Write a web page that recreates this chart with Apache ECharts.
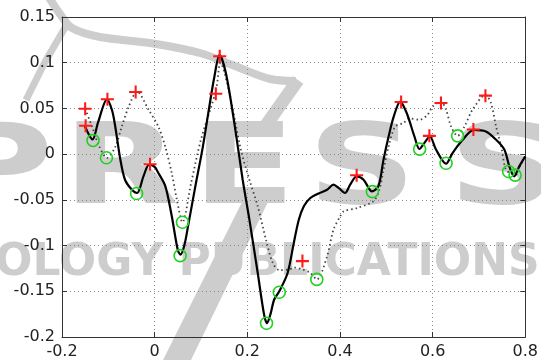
<!DOCTYPE html>
<html><head><meta charset="utf-8">
<script src="https://cdn.jsdelivr.net/npm/echarts@6/dist/echarts.min.js"></script>
<style>html,body{margin:0;padding:0;background:#fff}#c{width:541px;height:360px}</style>
</head><body><div id="c"></div>
<script>
const xTickLabels = ['-0.2','0','0.2','0.4','0.6','0.8'];
const yTickLabels = ['-0.2','-0.15','-0.1','-0.05','0','0.05','0.1','0.15'];

const solidCurve = [
  [-0.151,0.031],[-0.134,0.016],[-0.122,0.035],[-0.103,0.060],[-0.092,0.048],[-0.085,0.030],
  [-0.074,-0.006],[-0.064,-0.028],[-0.049,-0.039],[-0.038,-0.0425],[-0.024,-0.024],[-0.012,-0.0115],
  [0.000,-0.014],[0.008,-0.0206],[0.023,-0.035],[0.037,-0.068],[0.050,-0.105],[0.056,-0.110],
  [0.064,-0.100],[0.072,-0.079],[0.089,-0.032],[0.104,0.008],[0.118,0.052],[0.129,0.085],
  [0.140,0.1085],[0.154,0.088],[0.172,0.034],[0.190,-0.028],[0.2045,-0.0716],[0.2225,-0.130],
  [0.236,-0.175],[0.2425,-0.185],[0.250,-0.175],[0.258,-0.159],[0.269,-0.150],[0.287,-0.130],
  [0.300,-0.098],[0.311,-0.072],[0.322,-0.057],[0.336,-0.048],[0.354,-0.043],[0.372,-0.039],
  [0.386,-0.0334],[0.397,-0.037],[0.411,-0.0425],[0.422,-0.0334],[0.436,-0.0243],[0.451,-0.028],
  [0.469,-0.0407],[0.483,-0.035],[0.494,-0.006],[0.505,0.0193],[0.516,0.041],[0.530,0.0575],
  [0.544,0.045],[0.5608,0.0193],[0.5716,0.0056],[0.582,0.012],[0.594,0.0193],[0.6075,0.0048],
  [0.629,-0.0105],[0.643,0.0012],[0.665,0.0157],[0.6886,0.0266],[0.715,0.0248],[0.737,0.0157],
  [0.755,0.0048],[0.7655,-0.0134],[0.776,-0.0243],[0.787,-0.0134],[0.800,-0.0025]
];

const dottedCurve = [
  [-0.150,0.0496],[-0.135,0.030],[-0.121,0.010],[-0.103,-0.004],[-0.085,0.008],[-0.071,0.030],
  [-0.056,0.052],[-0.038,0.0685],[-0.013,0.0485],[0.008,0.030],[0.023,0.008],[0.037,-0.021],
  [0.048,-0.050],[0.060,-0.0745],[0.0787,-0.0316],[0.100,0.016],[0.1325,0.0700],[0.142,0.100],
  [0.160,0.070],[0.186,0.005],[0.2045,-0.028],[0.2225,-0.057],[0.240,-0.093],[0.255,-0.119],
  [0.270,-0.127],[0.291,-0.126],[0.300,-0.124],[0.319,-0.126],[0.336,-0.130],[0.350,-0.137],
  [0.372,-0.112],[0.386,-0.0825],[0.4006,-0.068],[0.408,-0.0625],[0.436,-0.059],[0.472,-0.0516],
  [0.485,-0.039],[0.494,-0.017],[0.505,0.0084],[0.519,0.030],[0.537,0.034],[0.550,0.039],
  [0.5716,0.0376],[0.589,0.043],[0.600,0.052],[0.618,0.0575],[0.629,0.0485],[0.640,0.030],
  [0.654,0.020],[0.6685,0.030],[0.686,0.0485],[0.714,0.0648],[0.726,0.0558],[0.737,0.030],
  [0.748,0.0084],[0.758,-0.017],[0.770,-0.021],[0.780,-0.0225],[0.790,-0.012],[0.800,-0.003]
];

const maximaPoints = [
  [-0.150,0.0496],[-0.149,0.031],[-0.102,0.060],[-0.041,0.068],[-0.010,-0.011],[0.132,0.066],
  [0.1405,0.107],[0.319,-0.117],[0.436,-0.023],[0.532,0.057],[0.593,0.020],[0.618,0.056],
  [0.688,0.027],[0.714,0.064]
];

const minimaPoints = [
  [-0.133,0.015],[-0.104,-0.004],[-0.039,-0.043],[0.055,-0.111],[0.060,-0.0745],[0.2415,-0.185],
  [0.269,-0.151],[0.350,-0.137],[0.470,-0.041],[0.572,0.0055],[0.629,-0.010],[0.654,0.020],
  [0.764,-0.019],[0.778,-0.023]
];

const labelFor = (labels) => (v) => {
  const s = String(+v.toFixed(2));
  return labels.indexOf(s) >= 0 ? s : '';
};

const plusPath = 'path://M-1,-0.16L-0.16,-0.16L-0.16,-1L0.16,-1L0.16,-0.16L1,-0.16L1,0.16L0.16,0.16L0.16,1L-0.16,1L-0.16,0.16L-1,0.16Z';
const wm = '#cdcdcd';
const bigFont = 'bold 112px "DejaVu Sans"';
const letter = (ch, cx) => ({
  type: 'text', z: -10, silent: true, x: cx, y: 174, scaleX: 1.35,
  style: { text: ch, x: 0, y: 0, font: bigFont, fill: wm, align: 'center', verticalAlign: 'middle' }
});

const chart = echarts.init(document.getElementById('c'), null, {renderer: 'canvas'});
const axisCommon = {
  type: 'value',
  axisLine: { show: true, onZero: false, lineStyle: { color: '#333', width: 1 } },
  axisTick: { show: true, inside: true, length: 5, lineStyle: { color: '#333' } },
  splitLine: { show: false }
};
chart.setOption({
  animation: false,
  backgroundColor: '#fff',
  grid: { left: 62, right: 15, top: 17, bottom: 22, show: true, backgroundColor: 'transparent', borderWidth: 0 },
  graphic: [
    letter('P', -2), letter('R', 121), letter('E', 244), letter('S', 362), letter('S', 503),
    { type: 'text', z: -10, silent: true,
      style: { text: 'OLOGY PUBLICATIONS', x: -5, y: 264, font: 'bold 44px "DejaVu Sans"', fill: wm, align: 'left', verticalAlign: 'middle' } },
    { type: 'polyline', z: -10, silent: true,
      shape: { points: [[48,-4],[60,14],[72,28],[100,37],[150,43],[200,53],[235,66],[270,79],[296,81]], smooth: 0.3 },
      style: { stroke: wm, lineWidth: 8, fill: null } },
    { type: 'polyline', z: -10, silent: true,
      shape: { points: [[298,80],[264,128]] },
      style: { stroke: wm, lineWidth: 13, fill: null } },
    { type: 'polyline', z: -10, silent: true,
      shape: { points: [[66,26],[45,62],[26,100]] },
      style: { stroke: wm, lineWidth: 7, fill: null } },
    { type: 'polygon', z: -10, silent: true,
      shape: { points: [[242,202],[268,202],[190,362],[162,362]] },
      style: { fill: wm } }
  ],
  xAxis: [
    Object.assign({}, axisCommon, {
      position: 'bottom', min: -0.2, max: 0.8, interval: 0.2,
      axisLabel: { color: '#222', fontSize: 16, fontFamily: 'DejaVu Sans', margin: 7, formatter: labelFor(xTickLabels) },
      splitLine: { show: true, lineStyle: { color: '#8a8a8a', type: [1, 3], width: 1 } }
    }),
    Object.assign({}, axisCommon, {
      position: 'top', min: -0.2, max: 0.8, interval: 0.2, axisLabel: { show: false }
    })
  ],
  yAxis: [
    Object.assign({}, axisCommon, {
      position: 'left', min: -0.2, max: 0.15, interval: 0.05,
      axisLabel: { color: '#222', fontSize: 16, fontFamily: 'DejaVu Sans', margin: 7, formatter: labelFor(yTickLabels) },
      splitLine: { show: true, lineStyle: { color: '#8a8a8a', type: [1, 3], width: 1 } }
    }),
    Object.assign({}, axisCommon, {
      position: 'right', min: -0.2, max: 0.15, interval: 0.05, axisLabel: { show: false }
    })
  ],
  series: [
    { type: 'line', data: dottedCurve, xAxisIndex: 0, yAxisIndex: 0, symbol: 'none', smooth: 0.3,
      lineStyle: { color: '#444', width: 1.8, type: [1.5, 3] }, z: 3 },
    { type: 'line', data: solidCurve, xAxisIndex: 0, yAxisIndex: 0, symbol: 'none', smooth: 0.3,
      lineStyle: { color: '#000', width: 2.2 }, z: 4 },
    { type: 'scatter', data: maximaPoints, symbol: plusPath, symbolSize: 13,
      itemStyle: { color: '#ff1a1a', opacity: 1 }, z: 6 },
    { type: 'scatter', data: minimaPoints, symbol: 'circle', symbolSize: 12,
      itemStyle: { color: 'rgba(0,0,0,0)', borderColor: '#22d022', borderWidth: 1.6, opacity: 1 }, z: 5 }
  ]
});
</script>
</body></html>
